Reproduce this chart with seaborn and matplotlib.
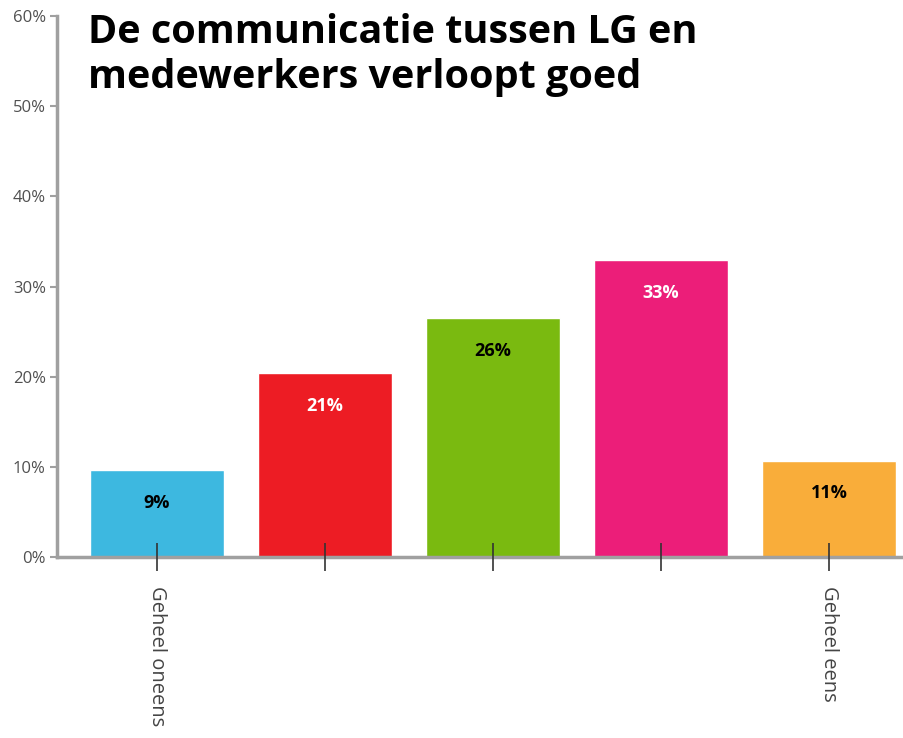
import pandas as pd
import matplotlib.pyplot as plt
import seaborn as sns

categories = ["1", "2", "3", "4", "5"]
values = [9.6, 20.4, 26.5, 32.9, 10.7]
bar_labels = ["9%", "21%", "26%", "33%", "11%"]
label_colors = ["black", "white", "black", "white", "black"]
tick_labels = ["Geheel oneens", "", "", "", "Geheel eens"]
colors = ["#3db8e0", "#ed1c24", "#7aba10", "#ec1e79", "#f9ad3a"]
title = "De communicatie tussen LG en\nmedewerkers verloopt goed"

df = pd.DataFrame({"cat": categories, "val": values})

sns.set_style("white")
plt.rcParams['font.family'] = ['Open Sans', 'DejaVu Sans']

fig = plt.figure(figsize=(9.04, 7.38), dpi=100)
ax = fig.add_axes([0.063, 0.2453, 0.937, 0.7327])

sns.barplot(data=df, x="cat", y="val", hue="cat", palette=colors,
            width=0.8, legend=False, ax=ax, saturation=1)
ax.set_axisbelow(False)

ax.set_xlim(-0.595, 4.446)
ax.set_ylim(0, 60)
ax.set_yticks(range(0, 61, 10))
ax.set_yticklabels([f"{v}%" for v in range(0, 61, 10)],
                   fontsize=12, color="#505050")
ax.set_xticks(range(5))
ax.set_xticklabels(tick_labels, rotation=-90, fontsize=14.5, color="#444444")
ax.set_xlabel("")
ax.set_ylabel("")

for s in ["top", "right"]:
    ax.spines[s].set_visible(False)
for s in ["left", "bottom"]:
    ax.spines[s].set_color("#a0a0a0")
    ax.spines[s].set_linewidth(2.5)

ax.tick_params(axis="x", bottom=True, direction="inout", length=20, width=1.2,
               color="#333333", pad=11)
ax.tick_params(axis="y", left=True, direction="out", length=5, width=1.5,
               color="#a0a0a0", pad=3)

for i, v in enumerate(values):
    ax.text(i, v - 3.6, bar_labels[i], ha="center", va="center",
            fontsize=13, fontweight="bold", color=label_colors[i])

fig.text(0.097, 0.982, title, ha="left", va="top", fontsize=28.5,
         fontweight="bold", color="black", linespacing=1.2)

fig.savefig("out.png", dpi=100)
